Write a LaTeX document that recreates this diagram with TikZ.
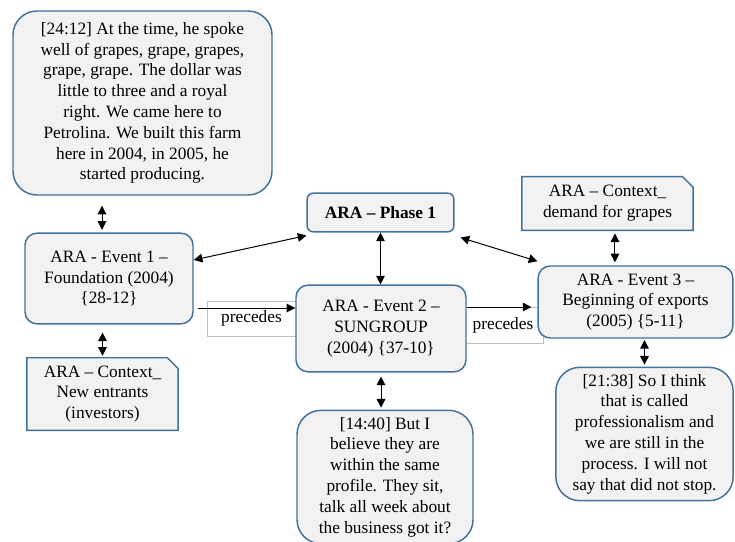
\documentclass[tikz,border=0pt]{standalone}
\usepackage{fontspec}
\setmainfont{Liberation Serif}
\usetikzlibrary{arrows.meta,backgrounds}
\definecolor{boxline}{RGB}{65,113,156}
\definecolor{boxfill}{RGB}{242,242,242}
\begin{document}
\begin{tikzpicture}[x=0.75pt,y=-0.75pt]
  \tikzstyle{txt}=[font=\fontsize{13}{15.6}\selectfont, align=center, inner sep=0pt]
  \tikzstyle{card}=[txt, draw=boxline, fill=boxfill, line width=1.1pt, rounded corners=9pt]
  \tikzstyle{speech}=[card, rounded corners=18pt]
  \tikzstyle{ctx}=[txt]
  \tikzstyle{snip}=[draw=boxline, fill=boxfill, line width=1.1pt]
  \tikzstyle{rel}=[txt, draw=black!25, line width=0.5pt]
  \tikzstyle{link}=[{Triangle[length=6.5pt,width=6.5pt]}-{Triangle[length=6.5pt,width=6.5pt]}, line width=0.75pt]
  \tikzstyle{prec}=[-{Triangle[length=6.5pt,width=6.5pt]}, line width=0.75pt]

  \useasboundingbox (0,0) rectangle (735,542);

  % labels of the precedes links
  \node[rel, minimum width=66.75pt, minimum height=26.25pt] (p1) at (251.5,318.5) {precedes};
  \node[rel, minimum width=60pt,    minimum height=27pt]    (p2) at (503,325)     {precedes};

  \node[speech, minimum width=194.25pt, minimum height=138pt] (1) at (142.5,103)
    {[24:12] At the time, he spoke\\ well of grapes, grape, grapes,\\ grape, grape. The dollar was\\
     little to three and a royal\\ right. We came here to\\ Petrolina. We built this farm\\
     here in 2004, in 2005, he\\ started producing.};
  \node[card, rounded corners=4.5pt, minimum width=110pt, minimum height=29pt,
        font=\fontsize{13}{15.6}\selectfont\bfseries] (2) at (380.5,212.5) {ARA – Phase 1};
  \node[card, minimum width=126pt,   minimum height=68pt] (3) at (109,278.5)
    {ARA - Event 1 –\\ Foundation (2004)\\ \{28-12\}};
  \node[ctx,  minimum width=113pt,   minimum height=54pt] (4) at (102.5,394)
    {ARA – Context\_\\ New entrants\\ (investors)};
  \node[card, minimum width=127.5pt, minimum height=65pt] (5) at (381,328.5)
    {ARA - Event 2 –\\ SUNGROUP\\ (2004) \{37-10\}};
  \node[ctx,  minimum width=128pt,   minimum height=40pt] (6) at (607.5,203.5)
    {ARA – Context\_\\ demand for grapes};
  \node[card, minimum width=146pt,   minimum height=54pt] (7) at (635.5,302)
    {ARA - Event 3 –\\ Beginning of exports\\ (2005) \{5-11\}};
  \node[speech, minimum width=132pt, minimum height=100pt] (8) at (385,477)
    {[14:40] But I\\ believe they are\\ within the same\\ profile. They sit,\\
     talk all week about\\ the business got it?};
  \node[speech, minimum width=133pt, minimum height=100pt] (9) at (644.5,434)
    {[21:38] So I think\\ that is called\\ professionalism and\\ we are still in the\\
     process. I will not\\ say that did not stop.};

  % context boxes with a cut corner
  \begin{scope}[on background layer]
    \foreach \n in {4,6}
      \draw[snip] (\n.south west) -- (\n.south east) -- ([yshift=-8pt]\n.north east)
        -- ([xshift=-8pt]\n.north east) -- (\n.north west) -- cycle;
  \end{scope}

  \draw[link, shorten <=2pt, shorten >=7.5pt] ([xshift=-5.25pt]3.north) -- ([xshift=-5.25pt]3.north |- 1.south);
  \draw[link, shorten <=6pt, shorten >=1.5pt] (3.south -| 4.north) -- (4.north);
  \draw[link] ([yshift=13.9pt]3.east) -- ([yshift=-2.25pt]2.south west);
  \draw[link] (2.south) -- (2.south |- 5.north);
  \draw[link] ([xshift=4.5pt,yshift=-3.75pt]2.south east) -- ([yshift=3pt]7.north west);
  \draw[link, shorten <=2.25pt, shorten >=2.25pt] ([xshift=5.6pt]6.south) -- ([xshift=5.6pt]6.south |- 7.north);
  \draw[link, shorten <=1pt, shorten >=1.5pt] (7.south -| 9.north) -- (9.north);
  \draw[link, shorten <=3pt, shorten >=1.5pt] (5.south) -- (5.south |- 8.north);

  \coordinate (s1) at (198,308);
  \draw[prec] (s1) -- (s1 -| 5.west);
  \draw[prec, shorten >=4.5pt] ([yshift=16.1pt]5.east) -- ([yshift=16.1pt]5.east -| 7.west);
\end{tikzpicture}
\end{document}
